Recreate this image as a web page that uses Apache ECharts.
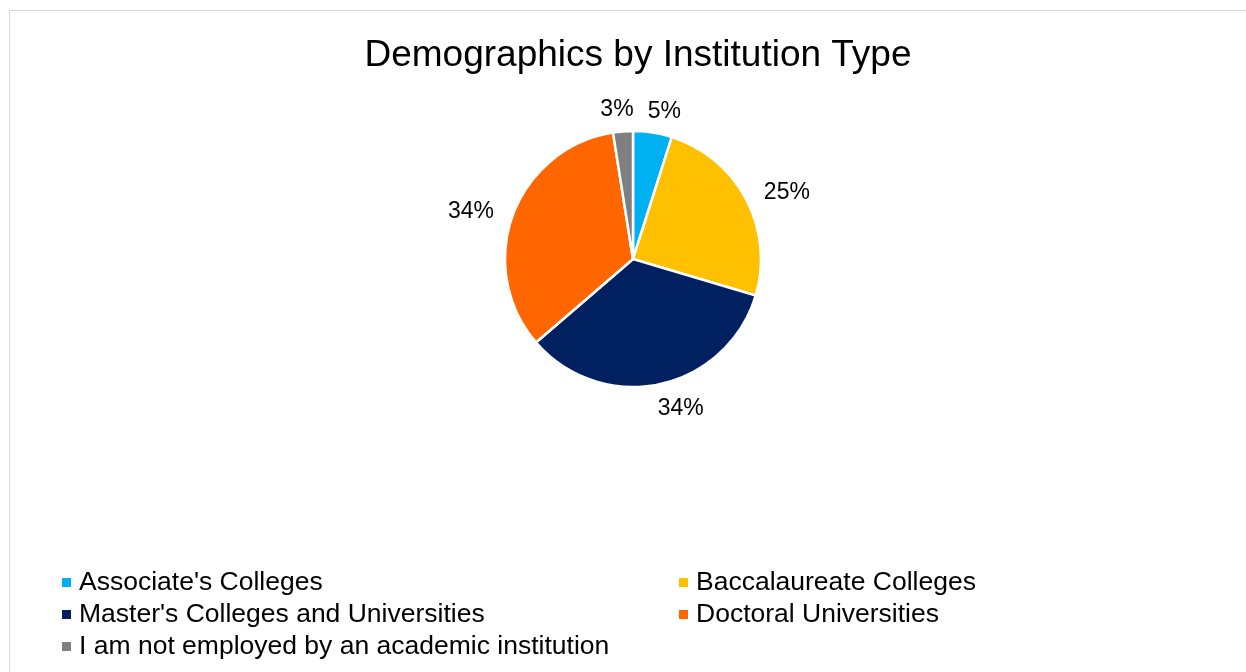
<!DOCTYPE html>
<html>
<head>
<meta charset="utf-8">
<title>Demographics by Institution Type</title>
<script src="https://cdn.jsdelivr.net/npm/echarts@6/dist/echarts.min.js"></script>
<style>
  html, body { margin: 0; padding: 0; background: #ffffff; }
  #chart { width: 1246px; height: 672px; }
</style>
</head>
<body>
<div id="chart"></div>
<script>
// Share of respondents by institution type (percent)
var categories = [
  "Associate's Colleges",
  "Baccalaureate Colleges",
  "Master's Colleges and Universities",
  "Doctoral Universities",
  "I am not employed by an academic institution"
];
var shares = [4.9, 24.7, 34.1, 33.8, 2.5];
var colors = ['#00B0F0', '#FFC000', '#002060', '#FF6600', '#7F7F7F'];

// Legend is laid out in two columns
var leftLegend = [categories[0], categories[2], categories[4]];
var rightLegend = [categories[1], categories[3]];

var FONT = '"Liberation Sans", Arial, sans-serif';
var PIE_CENTER = [633, 259];
var PIE_RADIUS = 128;
var LABEL_GAP = 12;    // distance from the rim to the label anchor

// Mid-angle of every slice as a fraction of the full turn (clockwise from 12 o'clock)
var total = shares.reduce(function (a, b) { return a + b; }, 0);
var midFrac = [];
(function () {
  var acc = 0;
  shares.forEach(function (v) { midFrac.push((acc + v / 2) / total); acc += v; });
})();

var pieData = categories.map(function (name, i) {
  return { name: name, value: shares[i], itemStyle: { color: colors[i] } };
});

var legendBase = {
  orient: 'vertical',
  icon: 'rect',
  itemWidth: 9,
  itemHeight: 9,
  itemGap: 5,
  selectedMode: false,
  itemStyle: { borderWidth: 0 },
  textStyle: { fontFamily: FONT, fontSize: 26.5, color: '#000', lineHeight: 27, padding: [0, 0, 0, 3] }
};

var chart = echarts.init(document.getElementById('chart'), null, { renderer: 'canvas' });
chart.setOption({
  animation: false,
  backgroundColor: '#ffffff',
  graphic: [{
    type: 'rect',
    silent: true,
    shape: { x: 9.5, y: 10.5, width: 1400, height: 800 },
    style: { fill: 'none', stroke: '#d9d9d9', lineWidth: 1 }
  }],
  title: {
    text: 'Demographics by Institution Type',
    left: PIE_CENTER[0],
    textAlign: 'center',
    top: 32,
    textStyle: { fontFamily: FONT, fontSize: 37, fontWeight: 'normal', color: '#000' }
  },
  legend: [
    Object.assign({ left: 57, top: 564, data: leftLegend }, legendBase),
    Object.assign({ left: 674, top: 564, data: rightLegend }, legendBase)
  ],
  series: [{
    type: 'pie',
    center: PIE_CENTER,
    radius: PIE_RADIUS,
    startAngle: 90,
    clockwise: true,
    avoidLabelOverlap: false,
    itemStyle: { borderColor: '#ffffff', borderWidth: 2.5 },
    label: {
      show: true,
      position: 'outside',
      fontFamily: FONT,
      fontSize: 23,
      color: '#000',
      formatter: function (p) { return Math.round(p.value) + '%'; }
    },
    labelLine: { show: false, length: 10, length2: 0 },
    // Outside-end labels: anchored past the rim on the slice's mid-angle,
    // pushed sideways on the flanks and centred near the top and bottom
    labelLayout: function (p) {
      var ang = midFrac[p.dataIndex] * 2 * Math.PI;
      var dx = Math.sin(ang), dy = -Math.cos(ang);
      var r = PIE_RADIUS + LABEL_GAP;
      var ax = PIE_CENTER[0] + dx * r;
      var ay = PIE_CENTER[1] + dy * r;
      var sx = (dx < 0 ? -1 : 1) * Math.min(1, 3.5 * Math.abs(dx)) + 0.35 * dx;
      var sy = dy * Math.abs(dy);
      return {
        x: ax + sx * p.labelRect.width / 2,
        y: ay + sy * p.labelRect.height / 2 + 2,
        align: 'center',
        verticalAlign: 'middle'
      };
    },
    emphasis: { disabled: true },
    data: pieData
  }]
});
</script>
</body>
</html>
